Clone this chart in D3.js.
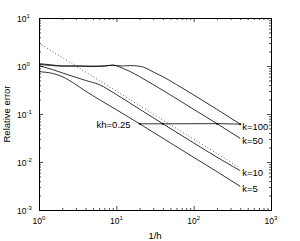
<!DOCTYPE html>
<html>
<head>
<meta charset="utf-8">
<script src="https://cdn.jsdelivr.net/npm/d3@7"></script>
<style>
  body { margin: 0; background: #fff; }
  text { font-family: "Liberation Sans", Arial, sans-serif; fill: #000; }
</style>
</head>
<body>
<div id="chart"></div>
<script>
// 1/h samples and relative error for each wavenumber
var k5N    = [1, 1.5, 2, 3, 4, 6, 10, 20, 50, 100, 200, 400];
var k5Err  = [0.76, 0.70, 0.60, 0.41, 0.30, 0.20, 0.123, 0.0625, 0.025, 0.0125, 0.0063, 0.0031];

var k10N   = [1, 1.5, 2, 3, 4, 6, 10, 20, 40, 100, 200, 400];
var k10Err = [1.02, 0.84, 0.72, 0.58, 0.50, 0.41, 0.255, 0.126, 0.0625, 0.025, 0.0126, 0.0066];

var k50N   = [1, 2, 3, 5, 7, 9, 10, 12, 15, 20, 30, 50, 100, 200, 400];
var k50Err = [1.08, 1.0, 1.0, 0.99, 1.0, 1.05, 1.01, 0.9, 0.77, 0.6, 0.41, 0.25, 0.125, 0.063, 0.031];

var k100N   = [1, 1.5, 2, 3, 5, 7, 9, 12, 15, 20, 25, 30, 40, 60, 100, 200, 400];
var k100Err = [1.12, 1.05, 1.0, 1.0, 0.98, 1.0, 1.03, 1.0, 1.02, 0.99, 0.88, 0.75, 0.6, 0.41, 0.25, 0.125, 0.0615];

var curveNames = ["k=5", "k=10", "k=50", "k=100"];

// dotted reference line
var refN   = [1, 400];
var refErr = [3, 0.0075];

// kh = 0.25 points on each curve
var khN   = [20, 40, 200, 400];
var khErr = [0.0625, 0.0625, 0.063, 0.0615];
var khLabel = "kh=0.25";

var xTicks = [1, 10, 100, 1000];
var yTicks = [1e-3, 1e-2, 1e-1, 1, 10];
var xLabel = "1/h", yLabel = "Relative error";

var margin = {top: 18, right: 29, bottom: 31, left: 39},
    width = 300 - margin.left - margin.right,
    height = 241 - margin.top - margin.bottom;

var svg = d3.select("#chart")
    .append("svg")
    .attr("width", 300)
    .attr("height", 241)
    .style("display", "block")
    .append("g")
    .attr("transform", "translate(" + margin.left + "," + margin.top + ")");

var x = d3.scaleLog().domain([1, 1000]).range([0, width]);
var y = d3.scaleLog().domain([1e-3, 10]).range([height, 0]);

// minor tick positions 2..9 per decade
function minors(ticks) {
  var out = [];
  for (var i = 0; i < ticks.length - 1; i++)
    for (var m = 2; m <= 9; m++) out.push(ticks[i] * m);
  return out;
}

function drawAxis(axisFn, scale, ticks, transform) {
  svg.append("g").attr("transform", transform)
    .call(axisFn(scale).tickValues(ticks).tickSize(-4).tickFormat(""))
    .call(function(g) { g.select(".domain").remove(); });
  svg.append("g").attr("transform", transform)
    .call(axisFn(scale).tickValues(minors(ticks)).tickSize(-2).tickFormat(""))
    .call(function(g) { g.select(".domain").remove(); });
}

drawAxis(d3.axisBottom, x, xTicks, "translate(0," + height + ")");
drawAxis(d3.axisTop, x, xTicks, "translate(0,0)");
drawAxis(d3.axisLeft, y, yTicks, "translate(0,0)");
drawAxis(d3.axisRight, y, yTicks, "translate(" + width + ",0)");

svg.selectAll(".tick line").attr("stroke", "#000").attr("stroke-width", 0.7);

svg.append("rect")
    .attr("width", width).attr("height", height)
    .attr("fill", "none").attr("stroke", "#000").attr("stroke-width", 1)
    .attr("shape-rendering", "crispEdges");

// tick labels as 10 with superscript exponent
xTicks.forEach(function(t) {
  var t1 = svg.append("text")
      .attr("x", x(t)).attr("y", height + 14)
      .attr("text-anchor", "middle")
      .style("font-size", "8.5px");
  t1.append("tspan").text("10");
  t1.append("tspan").attr("dy", -4).style("font-size", "6px").text(Math.round(Math.log10(t)));
});

yTicks.forEach(function(t) {
  var t1 = svg.append("text")
      .attr("x", -22).attr("y", y(t) + 3.5)
      .style("font-size", "8.5px");
  t1.append("tspan").text("10");
  t1.append("tspan").attr("dy", -4).style("font-size", "6px").text(Math.round(Math.log10(t)));
});

svg.append("text")
    .attr("x", width / 2).attr("y", height + 29)
    .attr("text-anchor", "middle")
    .style("font-size", "9.5px")
    .text(xLabel);

svg.append("text")
    .attr("transform", "translate(" + (-29) + "," + (height / 2) + ") rotate(-90)")
    .attr("text-anchor", "middle")
    .style("font-size", "9.5px")
    .text(yLabel);

var line = d3.line()
    .x(function(d) { return x(d[0]); })
    .y(function(d) { return y(d[1]); })
    .curve(d3.curveMonotoneX);

var curves = [[k5N, k5Err], [k10N, k10Err], [k50N, k50Err], [k100N, k100Err]];

// dotted reference
svg.append("path")
    .datum(d3.zip(refN, refErr))
    .attr("d", line)
    .attr("fill", "none")
    .attr("stroke", "#000")
    .attr("stroke-width", 0.8)
    .attr("stroke-dasharray", "0.8,2.4");

curves.forEach(function(c, i) {
  var pts = d3.zip(c[0], c[1]);
  svg.append("path")
      .datum(pts)
      .attr("d", line)
      .attr("fill", "none")
      .attr("stroke", "#000")
      .attr("stroke-width", 0.8);
  var last = pts[pts.length - 1];
  svg.append("text")
      .attr("x", x(last[0]) + 2)
      .attr("y", y(last[1]) + 3)
      .attr("dominant-baseline", "middle")
      .style("font-size", "9.5px")
      .text(curveNames[i]);
});

// kh = 0.25 line
var khPts = d3.zip(khN, khErr);
svg.append("path")
    .datum(khPts)
    .attr("d", d3.line().x(function(d) { return x(d[0]); }).y(function(d) { return y(d[1]); }))
    .attr("fill", "none")
    .attr("stroke", "#000")
    .attr("stroke-width", 0.8);

svg.selectAll(".khdot")
    .data(khPts)
    .enter()
    .append("circle")
    .attr("class", "khdot")
    .attr("cx", function(d) { return x(d[0]); })
    .attr("cy", function(d) { return y(d[1]); })
    .attr("r", 1)
    .attr("fill", "#000");

svg.append("text")
    .attr("x", x(khN[0]) - 9)
    .attr("y", y(khErr[0]) + 4)
    .attr("text-anchor", "end")
    .style("font-size", "9.5px")
    .text(khLabel);
</script>
</body>
</html>
